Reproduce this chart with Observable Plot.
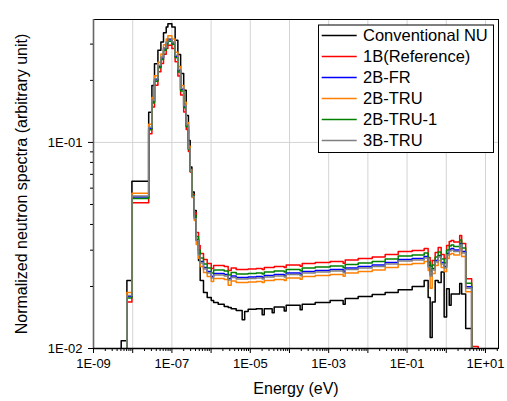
<!DOCTYPE html>
<html><head><meta charset="utf-8">
<script src="https://cdn.jsdelivr.net/npm/d3@7"></script>
<script src="https://cdn.jsdelivr.net/npm/@observablehq/plot@0.6"></script>
<style>body{margin:0;background:#fff;}</style>
</head><body><div id="chart"></div>
<script>
// Group boundaries (eV), 73 edges -> 72 groups
const energyEdges = [2.67e-9, 5.09e-9, 7.11e-9, 9.55e-9, 2.56e-8, 3.09e-8, 3.60e-8, 4.40e-8, 5.24e-8, 6.11e-8,
  7.16e-8, 7.91e-8, 1.0e-7, 1.21e-7, 1.42e-7, 1.67e-7, 2.0e-7, 2.32e-7, 2.64e-7, 2.93e-7,
  3.24e-7, 3.71e-7, 4.17e-7, 4.78e-7, 5.27e-7, 6.40e-7, 7.96e-7, 1.01e-6, 1.16e-6, 1.52e-6,
  2.16e-6, 2.73e-6, 3.26e-6, 4.37e-6, 6.21e-6, 7.19e-6, 8.83e-6, 1.42e-5, 2.01e-5, 2.27e-5,
  3.62e-5, 4.07e-5, 7.33e-5, 8.24e-5, 1.87e-4, 2.11e-4, 4.53e-4, 1.09e-3, 2.34e-3, 2.64e-3,
  5.66e-3, 1.29e-2, 2.76e-2, 5.93e-2, 0.135, 0.273, 0.345, 0.388, 0.437, 0.521,
  0.621, 0.741, 0.883, 1.02, 1.19, 1.33, 1.55, 2.20, 2.47, 3.13,
  4.45, 6.52, 13.2];

const conventionalNU = [0.005, 0.0109, 0.0214, 0.0649, 0.140, 0.189, 0.241, 0.280, 0.307, 0.341, 0.363, 0.377,
  0.363, 0.313, 0.267, 0.216, 0.179, 0.135, 0.1023, 0.0759, 0.0574, 0.0468, 0.0334, 0.0267,
  0.0214, 0.0187, 0.0177, 0.0171, 0.0167, 0.0164, 0.0160, 0.0158, 0.0156, 0.0153, 0.0138, 0.0151,
  0.0155, 0.0156, 0.0146, 0.0156, 0.0149, 0.0159, 0.0152, 0.0162, 0.0154, 0.0164, 0.0167, 0.0171,
  0.0164, 0.0175, 0.0179, 0.0183, 0.0187, 0.0193, 0.0200, 0.0214, 0.0177, 0.0113, 0.0168, 0.0214,
  0.0209, 0.0235, 0.0142, 0.0195, 0.0162, 0.0184, 0.0184, 0.0207, 0.0184, 0.0125, 0.009, 0.005];

const ref1B = [0.005, 0.008, 0.0168, 0.0510, 0.1101, 0.1486, 0.1895, 0.2202, 0.2414, 0.2681, 0.2854, 0.2964,
  0.2854, 0.2461, 0.2099, 0.1698, 0.1407, 0.1154, 0.0904, 0.0718, 0.0559, 0.0457, 0.0366, 0.0316,
  0.02892, 0.02704, 0.02586, 0.02445, 0.02528, 0.02528, 0.02500, 0.02391, 0.02459, 0.02418, 0.02418, 0.02418,
  0.02431, 0.02445, 0.02418, 0.02473, 0.02473, 0.02500, 0.02473, 0.02543, 0.02510, 0.02586, 0.02615, 0.02644,
  0.02590, 0.02689, 0.02734, 0.02781, 0.02860, 0.02957, 0.02990, 0.03058, 0.02766, 0.02500, 0.02674, 0.02924,
  0.03093, 0.02860, 0.02734, 0.03162, 0.03306, 0.03344, 0.03288, 0.03535, 0.03233, 0.02180, 0.01023, 0.005];

const fr2B = [0.005, 0.008, 0.0179, 0.0543, 0.1171, 0.1580, 0.2015, 0.2341, 0.2567, 0.2851, 0.3035, 0.3152,
  0.3035, 0.2617, 0.2233, 0.1806, 0.1497, 0.1207, 0.0935, 0.0726, 0.0547, 0.0432, 0.0338, 0.0289,
  0.02645, 0.02473, 0.02365, 0.02236, 0.02312, 0.02312, 0.02286, 0.02187, 0.02249, 0.02211, 0.02211, 0.02211,
  0.02223, 0.02236, 0.02211, 0.02262, 0.02262, 0.02286, 0.02262, 0.02326, 0.02295, 0.02365, 0.02391, 0.02418,
  0.02369, 0.02459, 0.02500, 0.02543, 0.02615, 0.02704, 0.02734, 0.02797, 0.02530, 0.02286, 0.02445, 0.02674,
  0.02829, 0.02615, 0.02500, 0.02892, 0.03023, 0.03058, 0.03007, 0.03233, 0.02957, 0.01994, 0.0094, 0.005];

const tru2B = [0.005, 0.008, 0.0187, 0.0567, 0.1224, 0.1653, 0.2107, 0.2448, 0.2684, 0.2982, 0.3174, 0.3296,
  0.3174, 0.2737, 0.2335, 0.1889, 0.1565, 0.1249, 0.0957, 0.0734, 0.0541, 0.0418, 0.0320, 0.0274,
  0.02501, 0.02338, 0.02236, 0.02114, 0.02186, 0.02186, 0.02162, 0.02030, 0.02126, 0.02091, 0.02091, 0.02091,
  0.02102, 0.02114, 0.02091, 0.02138, 0.02138, 0.02162, 0.02138, 0.02199, 0.02170, 0.02236, 0.02261, 0.02286,
  0.02240, 0.02325, 0.02364, 0.02405, 0.02473, 0.02557, 0.02585, 0.02644, 0.02392, 0.01960, 0.02312, 0.02528,
  0.02675, 0.02473, 0.02364, 0.02734, 0.02859, 0.02892, 0.02843, 0.03057, 0.02796, 0.01885, 0.0088, 0.005];

const tru2B1 = [0.005, 0.008, 0.0176, 0.0534, 0.1151, 0.1554, 0.1982, 0.2303, 0.2525, 0.2804, 0.2985, 0.3100,
  0.2985, 0.2574, 0.2196, 0.1776, 0.1472, 0.1193, 0.0925, 0.0722, 0.0553, 0.0442, 0.0350, 0.0301,
  0.02750, 0.02572, 0.02459, 0.02325, 0.02404, 0.02404, 0.02378, 0.02274, 0.02339, 0.02300, 0.02300, 0.02300,
  0.02312, 0.02325, 0.02300, 0.02352, 0.02352, 0.02378, 0.02352, 0.02418, 0.02387, 0.02459, 0.02487, 0.02514,
  0.02463, 0.02557, 0.02600, 0.02645, 0.02720, 0.02812, 0.02843, 0.02908, 0.02630, 0.02378, 0.02543, 0.02781,
  0.02941, 0.02720, 0.02600, 0.03007, 0.03144, 0.03180, 0.03127, 0.03362, 0.03075, 0.02073, 0.0097, 0.005];

const tru3B = [0.005, 0.008, 0.0181, 0.0549, 0.1184, 0.1598, 0.2038, 0.2367, 0.2596, 0.2883, 0.3069, 0.3188,
  0.3069, 0.2646, 0.2257, 0.1826, 0.1513, 0.1220, 0.0935, 0.0726, 0.0547, 0.0428, 0.0334, 0.0284,
  0.02601, 0.02432, 0.02326, 0.02199, 0.02273, 0.02273, 0.02248, 0.02150, 0.02211, 0.02175, 0.02175, 0.02175,
  0.02186, 0.02199, 0.02175, 0.02224, 0.02224, 0.02248, 0.02224, 0.02287, 0.02257, 0.02326, 0.02352, 0.02378,
  0.02329, 0.02418, 0.02459, 0.02501, 0.02572, 0.02659, 0.02689, 0.02750, 0.02487, 0.02248, 0.02405, 0.02630,
  0.02782, 0.02572, 0.02459, 0.02844, 0.02973, 0.03007, 0.02957, 0.03179, 0.02907, 0.01960, 0.0092, 0.005];

const seriesNames = ["Conventional NU", "1B(Reference)", "2B-FR", "2B-TRU", "2B-TRU-1", "3B-TRU"];
const seriesColors = ["#000000", "#ff0000", "#0000ff", "#ff8000", "#008000", "#808080"];
const seriesValues = [conventionalNU, ref1B, fr2B, tru2B, tru2B1, tru3B];

const xMajorTicks = [1e-9, 1e-8, 1e-7, 1e-6, 1e-5, 1e-4, 1e-3, 1e-2, 1e-1, 1e0, 1e1];
const xTickLabels = ["1E-09", "", "1E-07", "", "1E-05", "", "1E-03", "", "1E-01", "", "1E+01"];
const yMajorTicks = [0.01, 0.1];
const yTickLabels = ["1E-02", "1E-01"];
const xTitle = "Energy (eV)";
const yTitle = "Normalized neutron spectra (arbitrary unit)";

const xMinorTicks = [];
for (const d of xMajorTicks) for (let m = 2; m <= 9; m++) { const v = d * m; if (v < 21.5) xMinorTicks.push(v); }
const yMinorTicks = [];
for (const d of [0.01, 0.1]) for (let m = 2; m <= 9; m++) { const v = d * m; if (v < 0.395) yMinorTicks.push(v); }

function stepPoints(values) {
  const pts = values.map((v, i) => ({E: energyEdges[i], v}));
  pts.push({E: energyEdges[values.length], v: values[values.length - 1]});
  return pts;
}

const chart = Plot.plot({
  width: 507, height: 401,
  marginLeft: 93, marginRight: 9, marginTop: 19, marginBottom: 53,
  style: {fontFamily: "'Liberation Sans', Arial, sans-serif", fontSize: "13px", color: "black", background: "white"},
  x: {type: "log", domain: [1e-9, 21.5]},
  y: {type: "log", domain: [0.01, 0.395]},
  marks: [
    Plot.gridX(xMajorTicks.slice(1), {stroke: "#d4d4d4", strokeOpacity: 1}),
    Plot.gridY([0.1], {stroke: "#d4d4d4", strokeOpacity: 1}),
    ...seriesValues.map((vals, k) => Plot.line(stepPoints(vals), {x: "E", y: "v", stroke: seriesColors[k], strokeWidth: 1.5, curve: "step-after", clip: true})),
    Plot.frame({stroke: "black", strokeWidth: 1}),
    Plot.ruleX([1e-9], {stroke: "#666", strokeWidth: 1.6}),
    Plot.ruleY([0.01], {stroke: "black", strokeWidth: 1.4}),
    Plot.axisX(xMinorTicks, {tickSize: 3, tickFormat: () => "", strokeWidth: 1, label: null}),
    Plot.axisX(xMajorTicks, {tickSize: 5, tickPadding: 5, tickFormat: d => xTickLabels[Math.round(Math.log10(d)) + 9], fontSize: 13, label: null}),
    Plot.axisY(yMinorTicks, {tickSize: 3, tickFormat: () => "", strokeWidth: 1, label: null}),
    Plot.axisY(yMajorTicks, {tickSize: 5, tickPadding: 6, tickFormat: d => yTickLabels[Math.round(Math.log10(d)) + 2], fontSize: 13, label: null}),
  ]
});

const svg = d3.select(chart);
svg.append("text").attr("x", 296).attr("y", 393.5).attr("text-anchor", "middle")
  .attr("font-size", 16).attr("fill", "black").text(xTitle);
svg.append("text").attr("transform", "translate(27,184) rotate(-90)").attr("text-anchor", "middle")
  .attr("font-size", 16).attr("fill", "black").text(yTitle);

const lg = svg.append("g").attr("text-anchor", "start");
lg.append("rect").attr("x", 318.5).attr("y", 25).attr("width", 175).attr("height", 127.5)
  .attr("fill", "white").attr("stroke", "black").attr("stroke-width", 1);
seriesNames.forEach((name, i) => {
  const cy = 35.5 + i * 21;
  lg.append("line").attr("x1", 321.7).attr("x2", 356.7).attr("y1", cy).attr("y2", cy)
    .attr("stroke", seriesColors[i]).attr("stroke-width", 1.5);
  lg.append("text").attr("x", 363).attr("y", cy).attr("dy", "0.36em").attr("text-anchor", "start")
    .attr("font-size", 16.5).attr("fill", "black").text(name);
});

document.getElementById("chart").appendChild(chart);
</script>
</body></html>
